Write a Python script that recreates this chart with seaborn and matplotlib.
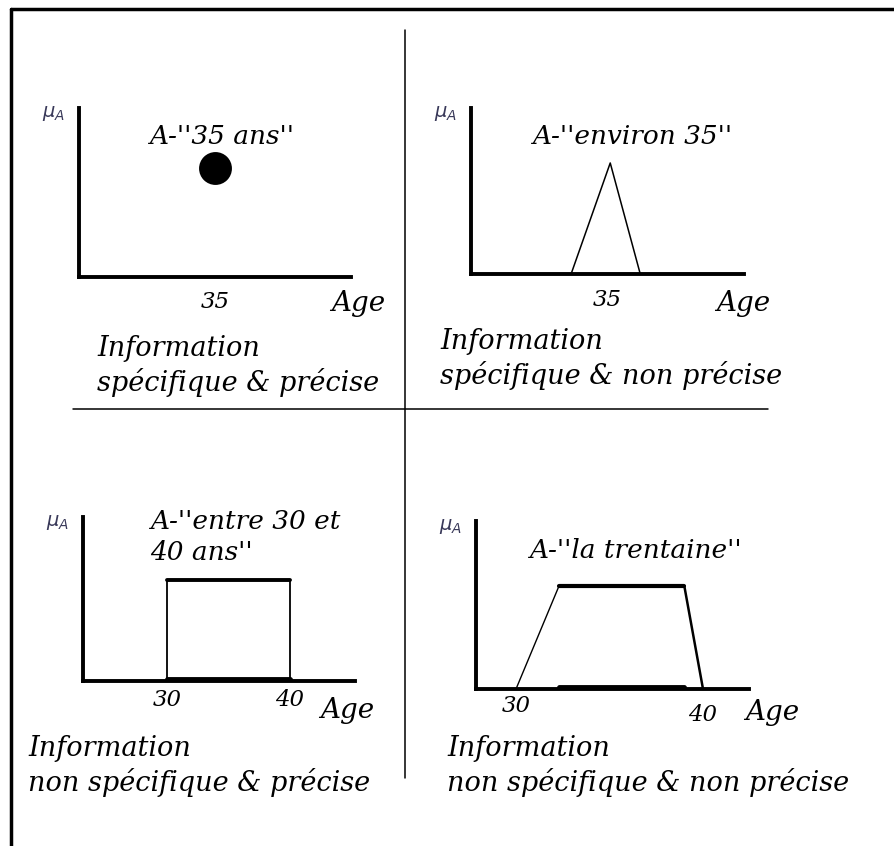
import matplotlib
matplotlib.use("Agg")
import matplotlib.pyplot as plt
import seaborn as sns

# données
point_age = [35]
point_mu = [1]
tri_age = [31, 35.3, 38.6]
tri_mu = [0, 1, 0]
rect_age = [30, 30, 40, 40]
rect_mu = [0, 1, 1, 0]
trap_age = [30, 32.3, 39, 40]
trap_mu = [0, 1, 1, 0]

titles = ["A-''35 ans''", "A-''environ 35''", "A-''entre 30 et\n40 ans''", "A-''la trentaine''"]
captions = ["Information\nspécifique & précise",
            "Information\nspécifique & non précise",
            "Information\nnon spécifique & précise",
            "Information\nnon spécifique & non précise"]

sns.set_theme(style="white")
plt.rcParams['font.family'] = ['DejaVu Serif']

W, H = 894, 846
fig = plt.figure(figsize=(W / 100, H / 100), dpi=100)

bg = fig.add_axes([0, 0, 1, 1])
bg.set_xlim(0, W)
bg.set_ylim(H, 0)
bg.axis('off')
# cadre + séparateurs
bg.plot([11, 11], [9, H], color='black', lw=2.5)
bg.plot([11, W], [9, 9], color='black', lw=2.5)
bg.plot([405, 405], [30, 778], color='black', lw=1.1)
bg.plot([73, 768], [409, 409], color='black', lw=1.1)


def panel(x0, y0, x1, y1, xlim, ylim):
    ax = fig.add_axes([x0 / W, 1 - y1 / H, (x1 - x0) / W, (y1 - y0) / H])
    ax.set_xlim(*xlim)
    ax.set_ylim(*ylim)
    ax.set_facecolor('none')
    sns.despine(ax=ax)
    for s in ['left', 'bottom']:
        ax.spines[s].set_linewidth(2.8)
        ax.spines[s].set_color('black')
    ax.set_xticks([])
    ax.set_yticks([])
    return ax


def seg(ax, xs, ys, i, j, lw):
    sns.lineplot(x=xs[i:j], y=ys[i:j], ax=ax, color='black', lw=lw,
                 sort=False, estimator=None, clip_on=False)


txt = dict(style='italic', color='black')

# panneau 1
ax1 = panel(79, 108, 351, 277, (20, 50), (0, 1.55))
sns.scatterplot(x=point_age, y=point_mu, ax=ax1, s=480, color='black', edgecolor='black')
# panneau 2
ax2 = panel(471, 108, 744, 274, (20, 50), (0, 1.495))
seg(ax2, tri_age, tri_mu, 0, 3, 1.1)
# panneau 3
ax3 = panel(83, 517, 355, 681, (23.17, 45.28), (0, 1.62))
seg(ax3, rect_age, rect_mu, 0, 2, 1.3)
seg(ax3, rect_age, rect_mu, 1, 3, 2.8)
seg(ax3, rect_age, rect_mu, 2, 4, 1.3)
sns.lineplot(x=rect_age[1:3], y=[0.02, 0.02], ax=ax3, color='black', lw=3.5, clip_on=False)
# panneau 4
ax4 = panel(476, 521, 749, 689, (27.86, 42.46), (0, 1.63))
seg(ax4, trap_age, trap_mu, 0, 2, 1.0)
seg(ax4, trap_age, trap_mu, 1, 3, 3.0)
seg(ax4, trap_age, trap_mu, 2, 4, 1.8)
sns.lineplot(x=trap_age[1:3], y=[0.02, 0.02], ax=ax4, color='black', lw=3.5, clip_on=False)

# étiquettes des axes (décalages en points)
age_pos = [(-14, -19), (-20, -21), (-25, -21), (-3, -17)]
for ax, ticks, dy, apos in [(ax1, point_age, [-18], age_pos[0]), (ax2, [35], [-19], age_pos[1]),
                            (ax3, [30, 40], [-14, -14], age_pos[2]),
                            (ax4, [30, 40], [-12, -19], age_pos[3])]:
    tr = ax.get_xaxis_transform()
    for t, d in zip(ticks, dy):
        ax.annotate(str(t), (t, 0), xycoords=tr, xytext=(0, d), textcoords='offset points',
                    ha='center', va='center', fontsize=16.5, **txt)
    ax.annotate('Age', (1, 0), xycoords='axes fraction', xytext=apos,
                textcoords='offset points', ha='left', va='center', fontsize=20, **txt)
    ax.annotate(r'$\mu_A$', (0, 1), xycoords='axes fraction', xytext=(-10, -4),
                textcoords='offset points', ha='right', va='center', fontsize=14,
                color='#3a3a5a')

bg.text(222, 137, titles[0], ha='center', va='center', fontsize=19, **txt)
bg.text(632, 137, titles[1], ha='center', va='center', fontsize=19, **txt)
bg.text(150, 537, titles[2], ha='left', va='center', fontsize=19, linespacing=1.3, **txt)
bg.text(635, 550, titles[3], ha='center', va='center', fontsize=19, **txt)

bg.text(97, 366, captions[0], ha='left', va='center', fontsize=19.5, linespacing=1.3, **txt)
bg.text(440, 359, captions[1], ha='left', va='center', fontsize=19.5, linespacing=1.3, **txt)
bg.text(28, 766, captions[2], ha='left', va='center', fontsize=19.5, linespacing=1.3, **txt)
bg.text(447, 766, captions[3], ha='left', va='center', fontsize=19.5, linespacing=1.3, **txt)

fig.savefig('out.png', dpi=100)
